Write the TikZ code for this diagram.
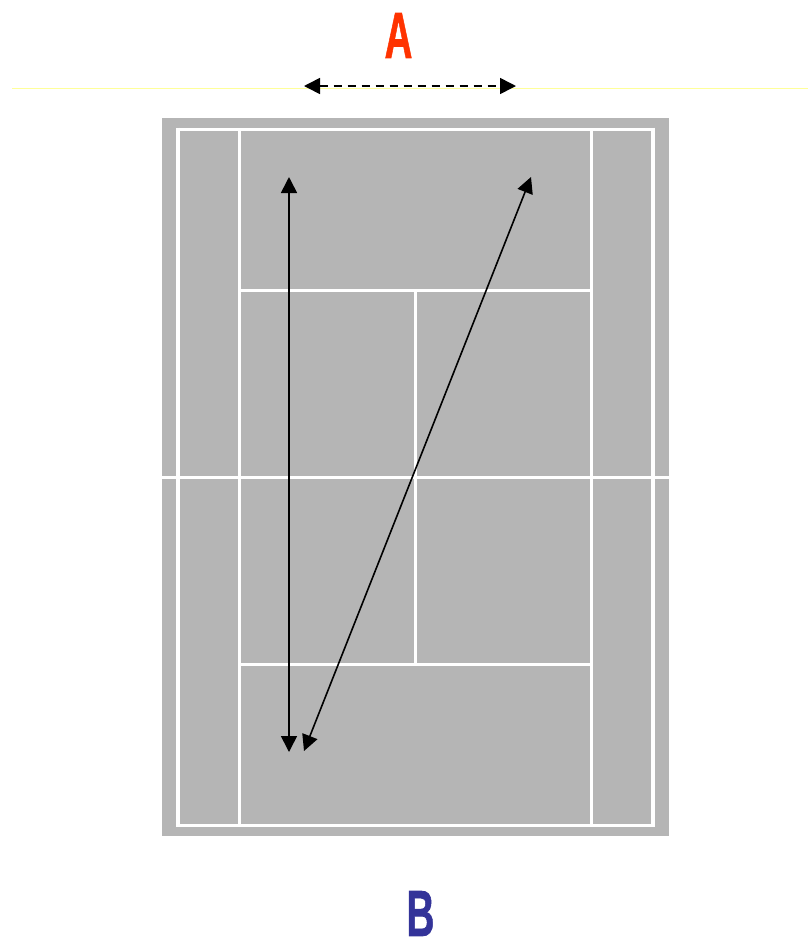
\documentclass[tikz,border=0pt]{standalone}
\usepackage{xcolor}
\usepackage{fontspec}
\setmainfont{Liberation Sans}
\newfontfamily\endfont[FakeBold=1.2]{Liberation Sans Bold}
\usetikzlibrary{
  arrows.meta,          % arrow tips
}
\definecolor{courtgrey}{HTML}{B5B5B5}
\definecolor{markred}{HTML}{FF3300}
\definecolor{markblue}{HTML}{333399}
\definecolor{baseyellow}{HTML}{FFFF99}

\begin{document}
\begin{tikzpicture}[
  x=0.75pt, y=-0.75pt,
  courtline/.style={draw=white, line width=2.25pt},
  sideline/.style={draw=white, line width=3pt},
  shot/.style={{Triangle[length=12pt,width=12pt]}-{Triangle[length=12pt,width=12pt]}, line width=1.2pt, black},
  movedash/.style={dash pattern=on 6pt off 4.5pt},
  endlabel/.style={inner sep=0pt, font=\endfont\fontsize{49}{49}\selectfont},
]
  \useasboundingbox (0,0) rectangle (808,940);
  % Court
  \fill[courtgrey] (162,118) rectangle (669,836);
  \draw[courtline] (178,129) -- (653,129);
  \draw[courtline] (178,825.5) -- (653,825.5);
  \draw[sideline] (178,127.5) -- (178,827);
  \draw[sideline] (653,127.5) -- (653,827);
  \draw[courtline] (239.5,129) -- (239.5,825.5);
  \draw[courtline] (591.5,129) -- (591.5,825.5);
  \draw[courtline] (239.5,290) -- (591.5,290);
  \draw[courtline] (239.5,664.5) -- (591.5,664.5);
  \draw[courtline] (415.5,290) -- (415.5,664.5);
  \draw[courtline] (162,477.5) -- (669,477.5);
  % Yellow line
  \draw[baseyellow, line width=0.75pt] (12,88) -- (808,88);
  % Arrow ends
  \coordinate (moveL) at (304,86);
  \coordinate (moveR) at (516,86);
  \coordinate (straightT) at (289,177);
  \coordinate (straightB) at (289,752);
  \coordinate (crossT) at (531,177);
  \coordinate (crossB) at (304,751);
  % Arrows
  \draw[shot, movedash] (moveL) -- (moveR);
  \draw[shot] (straightT) -- (straightB);
  \draw[shot] (crossT) -- (crossB);
  % Labels
  \node[endlabel, text=markred] (labelA) at (398.5,35.5) {\scalebox{0.59}[1]{A}};
  \node[endlabel, text=markblue] (labelB) at (420.5,913.5) {\scalebox{0.59}[1]{B}};
\end{tikzpicture}
\end{document}
